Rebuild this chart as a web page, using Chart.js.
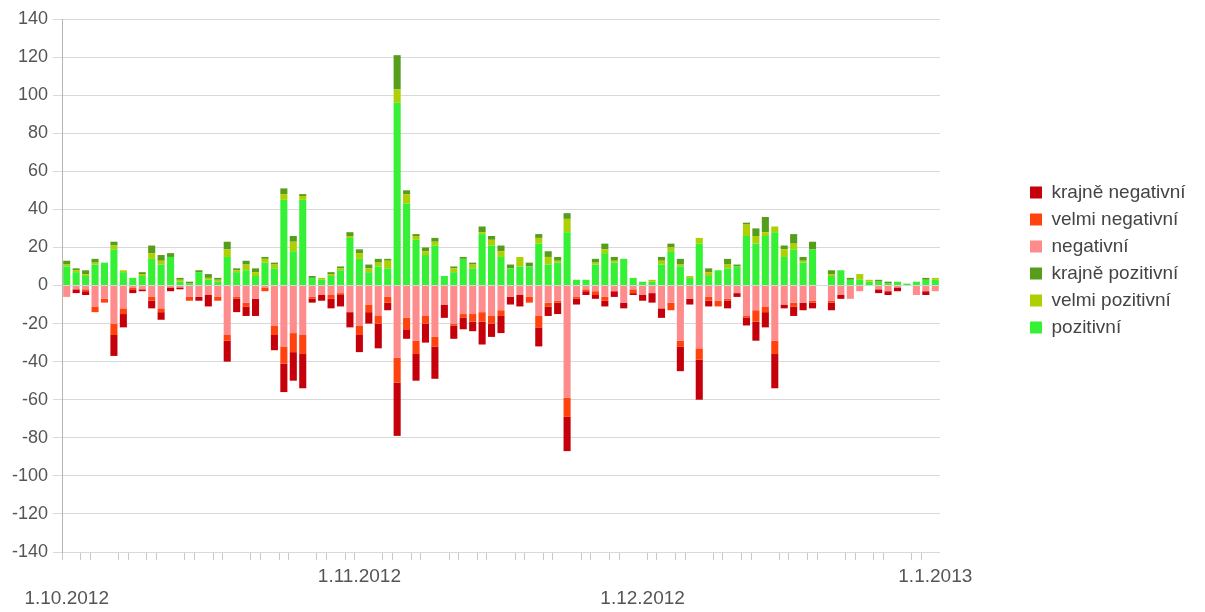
<!DOCTYPE html>
<html>
<head>
<meta charset="utf-8">
<script src="https://cdn.jsdelivr.net/npm/chart.js@4.4.0/dist/chart.umd.min.js"></script>
<style>
  html, body { margin: 0; padding: 0; background: #ffffff; }
  #wrap { width: 1205px; height: 612px; position: relative; }
</style>
</head>
<body>
<div id="wrap"><canvas id="c"></canvas></div>
<script>
// ---- categories: one per day, 1.10.2012 .. 1.1.2013 ----
const days = [];
(function () {
  const d = new Date(2012, 9, 1);
  const end = new Date(2013, 0, 1);
  while (d <= end) {
    days.push(d.getDate() + '.' + (d.getMonth() + 1) + '.' + d.getFullYear());
    d.setDate(d.getDate() + 1);
  }
})();

// ---- tick labels shown on the x axis ----
const monthLabels = ['1.10.2012', '1.11.2012', '1.12.2012', '1.1.2013'];
const yTicksMin = -140, yTicksMax = 140, yTickStep = 20;

// ---- series (counts per day) ----
const pozitivni = [10,7,5,11,12,19,7,4,5,14, 11,15,2,1,7,3,2,15,7,8, 5,12,9,45,18,45,4,3,5,8, 25,14,7,10,9,96,43,24,16,21, 5,7,14,9,27,21,15,9,10,10, 22,11,12,28,3,3,11,17,12,14, 4,2,2,11,18,10,4,22,5,8, 9,10,26,22,26,28,15,19,12,19, 0,5,8,3,3,2,2,1,2,1, 2,3,3];
const velmiPozitivni = [1,1,1,1,0,2,1,0,1,3, 2,0,1,0,0,1,1,4,1,3, 2,2,2,3,5,2,0,1,1,1, 1,3,2,2,4,7,5,2,2,2, 0,2,0,2,1,3,3,0,5,0, 3,4,1,7,0,0,1,2,1,0, 0,0,1,2,2,1,1,3,2,0, 2,0,6,4,2,3,4,3,1,0, 0,1,0,0,3,1,0,0,0,0, 0,0,1];
const krajnePozitivni = [2,1,2,2,0,2,0,0,1,4, 3,2,1,1,1,2,1,4,1,2, 2,1,1,3,3,1,1,0,1,1, 2,2,2,2,1,18,2,1,2,2, 0,1,1,1,3,2,3,2,0,2, 2,3,2,3,0,0,2,3,2,0, 0,0,0,2,2,3,0,0,2,0, 3,1,1,4,8,0,2,5,2,4, 0,2,0,1,0,0,1,1,0,0, 0,1,0];
const negativni = [-6,-2,-2,-11,-7,-20,-12,-1,-2,-6, -12,-1,-1,-6,-6,-5,-6,-26,-6,-9, -7,-1,-21,-32,-25,-26,-6,-5,-5,-4, -14,-21,-10,-16,-6,-38,-17,-29,-16,-27, -10,-20,-15,-15,-14,-16,-13,-6,-5,-6, -16,-9,-8,-59,-6,-2,-3,-6,-3,-9, -2,-5,-4,-12,-9,-29,-7,-33,-6,-8, -7,-4,-16,-13,-11,-29,-10,-9,-9,-8, 0,-8,-5,-7,-3,0,-2,-3,-1,0, -5,-3,-3];
const velmiNegativni = [0,0,-1,-3,-2,-6,-3,-1,0,-2, -2,0,0,-2,0,0,-2,-3,-1,-2, 0,-2,-5,-9,-10,-10,-1,0,-2,-1, 0,-5,-4,-4,-3,-13,-6,-7,-4,-5, 0,-1,-2,-4,-5,-4,-3,0,0,-3, -6,-2,-1,-10,-1,-1,-2,-2,0,0, -2,0,0,0,-4,-3,0,-6,-2,-3, -1,0,-1,-6,-3,-7,0,-2,0,-1, 0,-1,0,0,0,0,0,0,0,0, 0,0,0];
const krajneNegativni = [0,-2,-2,0,0,-11,-7,-2,-1,-4, -4,-2,-1,0,-2,-6,0,-11,-7,-5, -9,0,-8,-15,-15,-18,-2,-3,-5,-6, -8,-9,-6,-13,-4,-28,-5,-14,-10,-17, -7,-7,-6,-5,-12,-7,-9,-4,-6,0, -10,-5,-6,-18,-3,-2,-2,-3,-3,-3, -1,-3,-5,-5,0,-13,-3,-21,-3,0, -4,-2,-4,-10,-8,-18,-2,-5,-4,-3, 0,-4,-2,0,0,0,-2,-2,-2,0, 0,-2,0];

const seriesNames = ['pozitivní', 'velmi pozitivní', 'krajně pozitivní', 'negativní', 'velmi negativní', 'krajně negativní'];
const seriesData = [pozitivni, velmiPozitivni, krajnePozitivni, negativni, velmiNegativni, krajneNegativni];
const seriesColors = ['#35f035', '#aecf00', '#579d1c', '#ff8c8c', '#ff420e', '#c5000b'];

const FONT = "'Liberation Sans', Arial, sans-serif";

// legend placement helper (layout only)
const LEGEND_BOX_W = 265;   // space reserved right of plot
const LEGEND_LEFT = 1022;
const LEGEND_TOP = 175;
const legendPlace = {
  id: 'legendPlace',
  beforeLayout(chart) {
    const lg = chart.legend;
    if (lg && !lg._wPatched) {
      const fit = lg.fit;
      lg.fit = function () { fit.call(this); this.width = LEGEND_BOX_W; };
      lg._wPatched = true;
    }
  },
  afterLayout(chart) {
    const lg = chart.legend;
    if (!lg) return;
    const dx = LEGEND_LEFT - lg.left, dy = LEGEND_TOP - lg.top;
    lg.left += dx; lg.right += dx; lg.top += dy; lg.bottom += dy;
  }
};

new Chart(document.getElementById('c'), {
  type: 'bar',
  data: {
    labels: days,
    datasets: seriesNames.map((n, i) => ({
      label: n,
      data: seriesData[i],
      backgroundColor: seriesColors[i],
      borderWidth: 0,
      categoryPercentage: 1.0,
      barPercentage: 0.75
    }))
  },
  options: {
    responsive: true,
    maintainAspectRatio: false,
    devicePixelRatio: 1,
    animation: false,
    layout: { padding: { top: 19, left: 0, right: 0, bottom: 0 } },
    plugins: {
      tooltip: { enabled: false },
      legend: {
        position: 'right',
        align: 'start',
        fullSize: false,
        reverse: true,
        labels: {
          boxWidth: 12,
          boxHeight: 12,
          padding: 8,
          color: '#444',
          font: { family: FONT, size: 19 }
        }
      }
    },
    scales: {
      x: {
        stacked: true,
        afterFit: (s) => { s.height = 60; },
        border: { display: false },
        grid: {
          display: true,
          drawOnChartArea: false,
          drawTicks: true,
          tickLength: 8,
          offset: true,
          color: (ctx) => (ctx.index !== undefined && [6, 0, 2, 3].includes(ctx.index % 7)) ? '#c8c8c8' : 'rgba(0,0,0,0)'
        },
        ticks: {
          autoSkip: false,
          maxRotation: 0,
          minRotation: 0,
          padding: 5,
          color: '#555',
          font: { family: FONT, size: 19, lineHeight: 1.2 },
          callback: function (value) {
            const lbl = this.getLabelForValue(value);
            const m = monthLabels.indexOf(lbl);
            if (m < 0) return '';
            return m % 2 === 0 ? ['', lbl] : [lbl, ''];
          }
        }
      },
      y: {
        stacked: true,
        min: yTicksMin,
        max: yTicksMax,
        afterFit: (s) => { s.width = 62; },
        border: { display: true, color: '#b4b4b4', width: 1 },
        grid: {
          color: '#d9d9d9',
          lineWidth: 1,
          tickLength: 9,
          drawTicks: true
        },
        ticks: {
          stepSize: yTickStep,
          padding: 5,
          color: '#555',
          font: { family: FONT, size: 18 }
        }
      }
    }
  },
  plugins: [legendPlace]
});
</script>
</body>
</html>
